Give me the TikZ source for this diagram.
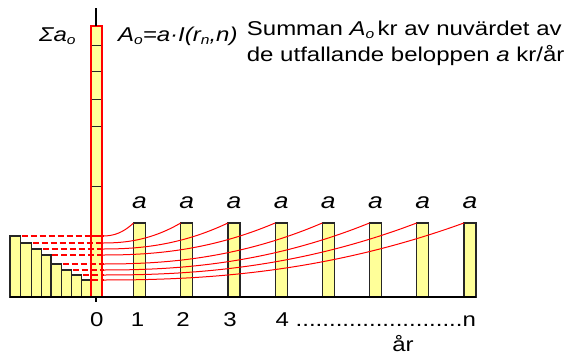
\documentclass[tikz,border=0pt]{standalone}
\usepackage{fontspec}
\setmainfont[FakeStretch=1.2]{Liberation Sans}
\newcommand\lowsub[1]{\raisebox{-0.3ex}{\fontsize{13}{13}\selectfont #1}}
\definecolor{barfill}{RGB}{255,255,153}
\begin{document}
\begin{tikzpicture}[x=1pt,y=-1pt,
  every node/.style={font=\fontsize{20}{24}\selectfont, inner sep=0pt},
  barbox/.style={draw=black!85, fill=barfill, line width=1.2pt},
  colbox/.style={draw=red, fill=barfill, line width=1.8pt},
  pvline/.style={draw=red, line width=1.8pt, dash pattern=on 6pt off 3pt},
  growline/.style={draw=red, line width=1pt},
  axisline/.style={draw=black, line width=1.6pt}]
\useasboundingbox (0,0) rectangle (565,356);
% left bars (present values)
\foreach \xa/\xb/\t in {10/20.7/236, 20.7/31.7/243, 31.7/41.7/249, 41.7/51/255, 51/61.7/264, 61.7/71.7/270, 71.7/81.7/275, 81.7/90.7/280}
  \draw[barbox] (\xa,\t) rectangle (\xb,297);
% summed column
\draw[colbox] (91,26) rectangle (102,297);
\foreach \y in {45.3,71.7,99.3,126.7,186.7}
  \draw[black!85, line width=1.2pt] (92,\y) -- (101,\y);
\draw[red, line width=1.5pt] (91,236) -- (102,236);
% right bars (payments a)
\foreach \k in {0,...,7}{
  \draw[barbox] ({133.5+47.2*\k},223) rectangle ({145.5+47.2*\k},297);
  \node[anchor=base, font=\fontsize{22}{24}\selectfont] (a\k) at ({139.5+47.2*\k},208.3) {\itshape a};
}
% dashed present-value levels
\foreach \xb/\t in {20.7/236, 31.7/243, 41.7/249, 51/255, 61.7/264, 71.7/270, 81.7/275, 90.7/280}
  \draw[pvline] (\xb+1,\t) -- (104,\t);
% discount curves
\foreach \t [count=\k from 0] in {236,243,249,255,264,270,275,280}{
  \pgfmathsetmacro\xk{133.5+47.2*\k}
  \pgfmathsetmacro\hh{297-\t}
  \draw[growline] plot[domain=102.05:\xk, samples=50, smooth]
    (\x, {297-(\hh+(74-\hh)*pow((\x-102)/(\xk-102),2.3))});
}
% axes
\draw[axisline] (10,297) -- (476,297);
\draw[axisline] (96,297) -- (96,302);
\draw[axisline] (96,8) -- (96,26);
% texts
\node[anchor=base west] (sig) at (39,41.7) {\itshape Σa\lowsub{o}};
\node[anchor=base west] (form) at (118,41.7) {\itshape A\lowsub{o}=a·I(r\lowsub{n},n)};
\node[anchor=base west] (line1) at (246.7,35) {Summan \textit{A\lowsub{o}}\,kr av nuvärdet av};
\node[anchor=base west] (line2) at (246.7,61) {de utfallande beloppen \textit{a} kr/år};
\node[anchor=base] (t0) at (96.7,326) {0};
\node[anchor=base] (t1) at (137.5,326) {1};
\node[anchor=base] (t2) at (183,326) {2};
\node[anchor=base] (t3) at (230,326) {3};
\node[anchor=base east] (t4) at (476,326) {4 .........................n};
\node[anchor=base] (yr) at (403,351) {år};
\end{tikzpicture}
\end{document}
